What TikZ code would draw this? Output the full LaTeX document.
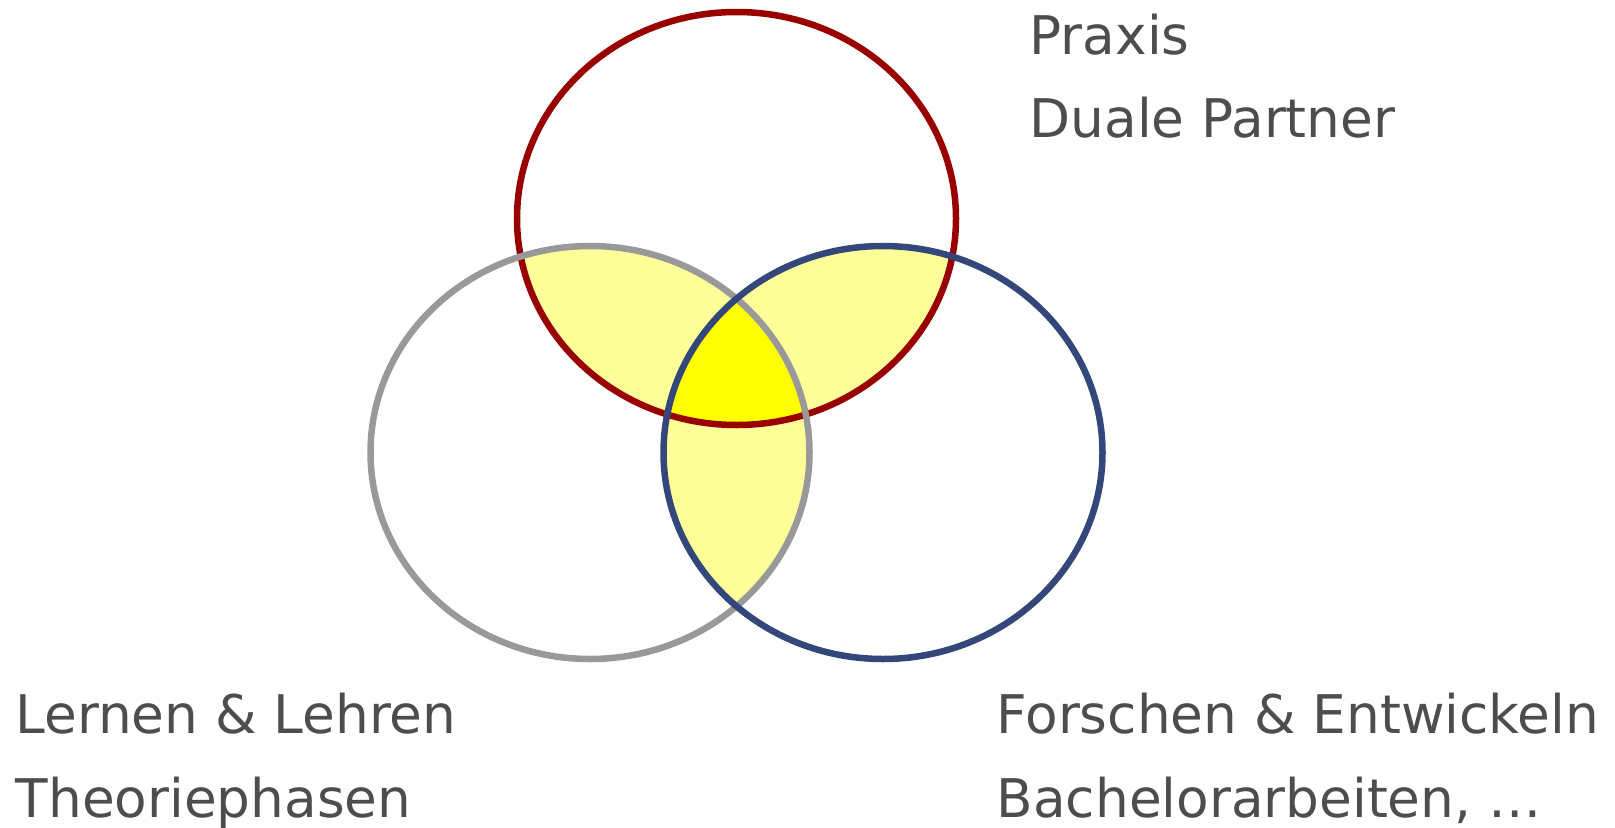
\documentclass[tikz,border=0pt]{standalone}
\usepackage{fontspec}
\setmainfont{DejaVu Sans}
\usetikzlibrary{positioning}
\definecolor{cRed}{RGB}{153,0,0}
\definecolor{cGrey}{RGB}{153,153,153}
\definecolor{cBlue}{RGB}{51,71,122}
\definecolor{cPale}{RGB}{255,255,153}
\definecolor{cCore}{RGB}{255,255,0}
\definecolor{cText}{RGB}{77,77,77}

\begin{document}
\begin{tikzpicture}[x=0.01cm, y=-0.01cm,
            rg/.style={line width=0.065cm},
            lb/.style={anchor=base west, inner sep=0pt, text=cText, font=\fontsize{15.15pt}{18pt}\selectfont}]
            \useasboundingbox (0,0) rectangle (1615,827);
            \coordinate (P) at (736.5,218.5);
            \coordinate (L) at (590,452.5);
            \coordinate (F) at (883,452.5);
            % overlaps
            \begin{scope}
                \clip (P) ellipse [x radius=219.5, y radius=206.5];
                \fill[cPale] (L) ellipse [x radius=219.5, y radius=206.5];
                \fill[cPale] (F) ellipse [x radius=219.5, y radius=206.5];
            \end{scope}
            \begin{scope}
                \clip (L) ellipse [x radius=219.5, y radius=206.5];
                \fill[cPale] (F) ellipse [x radius=219.5, y radius=206.5];
            \end{scope}
            \begin{scope}
                \clip (P) ellipse [x radius=219.5, y radius=206.5];
                \clip (L) ellipse [x radius=219.5, y radius=206.5];
                \fill[cCore] (F) ellipse [x radius=219.5, y radius=206.5];
            \end{scope}
            % rings
            \draw[rg, cRed]  (P) ellipse [x radius=219.5, y radius=206.5];
            \draw[rg, cGrey] (L) ellipse [x radius=219.5, y radius=206.5];
            \draw[rg, cBlue] (F) ellipse [x radius=219.5, y radius=206.5];
            % labels
            \node[lb] (praxis) at (1029,54)  {Praxis};
            \node[lb] (duale)  at (1029,137) {Duale Partner};
            \node[lb] (lernen) at (15,733)   {Lernen \& Lehren};
            \node[lb] (theo)   at (15,817)   {Theoriephasen};
            \node[lb] (forsch) at (996,733)  {Forschen \& Entwickeln};
            \node[lb] (bach)   at (996,817)  {Bachelorarbeiten, …};
        \end{tikzpicture}
\end{document}
